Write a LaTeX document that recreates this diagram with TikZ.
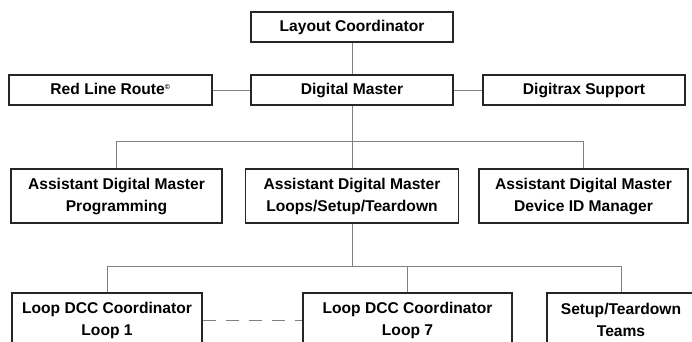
\documentclass[tikz,border=0pt]{standalone}
\usepackage{fontspec}
\setmainfont{Liberation Sans}
\usetikzlibrary{positioning}

\begin{document}
\begin{tikzpicture}[x=1pt,y=1pt,
	box/.style={rectangle,draw=black!85,line width=1.2pt,inner sep=0pt,align=center,minimum height=30pt,text height=11.5pt,text depth=3pt,font=\bfseries\fontsize{15.6}{22}\selectfont},
	tall/.style={box,minimum height=54pt,text height=,text depth=},
	link/.style={draw=black!50,line width=0.9pt}]

	\clip (0,0) rectangle (692,-341);

	\node[box,minimum width=202pt] (layout) at (352,-27) {Layout Coordinator};
	\node[box,minimum width=202pt] (master) [below of=layout, node distance=63pt] {Digital Master};
	\node[box,minimum width=203pt] (redline) [left of=master, node distance=241.5pt] {Red Line Route\textsuperscript{\scriptsize ©}};
	\node[box,minimum width=202pt] (digitrax) [right of=master, node distance=232pt] {Digitrax Support};

	\node[tall,minimum width=213pt] (loops) [below of=master, node distance=106pt] {Assistant Digital Master\\Loops/Setup/Teardown};
	\node[tall,minimum width=211pt] (prog) [left of=loops, node distance=235.5pt] {Assistant Digital Master\\Programming};
	\node[tall,minimum width=209pt] (device) [right of=loops, node distance=231.5pt] {Assistant Digital Master\\Device ID Manager};

	\node[tall,minimum width=209pt] (loopseven) at (407.5,-320) {Loop DCC Coordinator\\Loop 7};
	\node[tall,minimum width=190pt] (loopone) [left of=loopseven, node distance=300.5pt] {Loop DCC Coordinator\\Loop 1};
	\node[tall,minimum width=148pt] (teams) [right of=loopseven, node distance=213.5pt] {Setup/Teardown\\Teams};

	\path[link] (layout) -- (master);
	\path[link] (redline) -- (master);
	\path[link] (master) -- (digitrax);

	\path[link] (master.south) -- ++(0,-36) coordinate (busone);
	\path[link] (prog.north) |- (busone) -| (device.north);
	\path[link] (busone) -- (loops.north);

	\path[link] (loops.south) -- ++(0,-43) coordinate (bustwo);
	\path[link] (loopone.north) |- (bustwo) -| (teams.north);
	\path[link] (bustwo) -| (loopseven.north);

	\path[link,dash pattern=on 13pt off 10pt] (loopone) -- (loopseven);

\end{tikzpicture}
\end{document}
